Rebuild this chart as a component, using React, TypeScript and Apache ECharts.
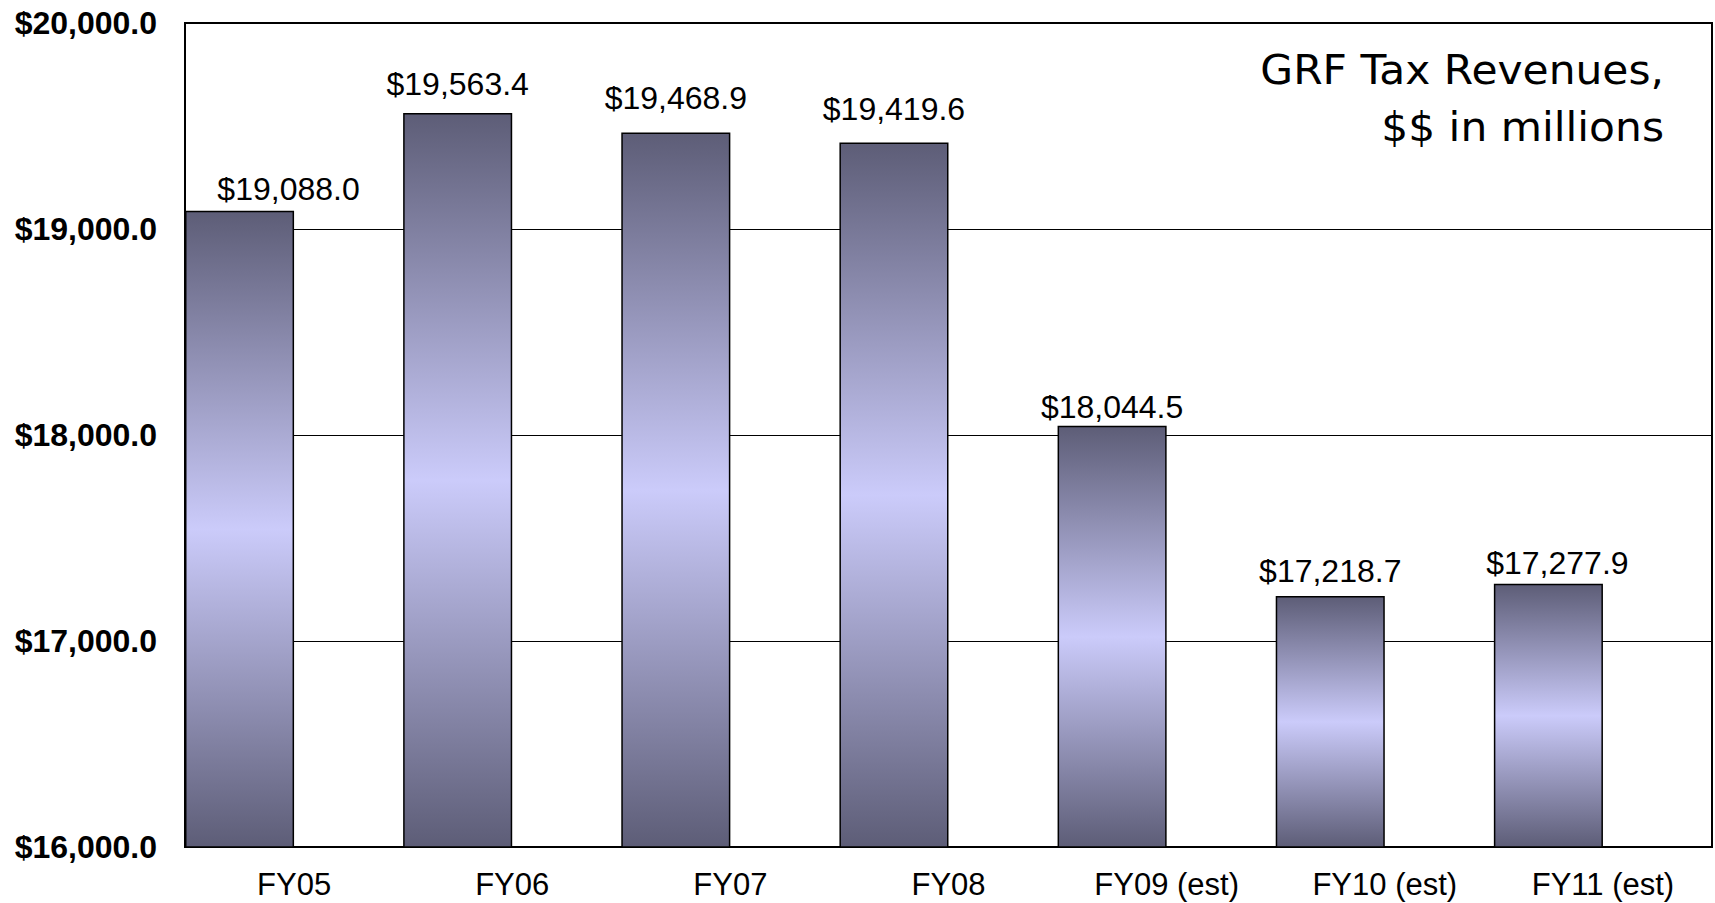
import React, { useEffect, useRef } from "react";
import * as echarts from "echarts";

// GRF tax revenues by fiscal year, $ in millions
const categories = ["FY05", "FY06", "FY07", "FY08", "FY09 (est)", "FY10 (est)", "FY11 (est)"];
const revenues = [19088.0, 19563.4, 19468.9, 19419.6, 18044.5, 17218.7, 17277.9];

// value axis range and step
const axisMin = 16000;
const axisMax = 20000;
const axisStep = 1000;

const titleLines = ["GRF Tax Revenues,", "$$ in millions"];

const money = (v: number) =>
  "$" + v.toLocaleString("en-US", { minimumFractionDigits: 1, maximumFractionDigits: 1 });

export default function App() {
  const ref = useRef<HTMLDivElement>(null);

  useEffect(() => {
    if (!ref.current) return;
    const chart = echarts.init(ref.current, null, { renderer: "svg" });

    const dark = "#5D5D77";
    const light = "#CBCBFA";
    const barFill = new echarts.graphic.LinearGradient(0, 0, 0, 1, [
      { offset: 0, color: dark },
      { offset: 0.5, color: light },
      { offset: 1, color: dark },
    ]);

    // hand-placed value labels: nudges relative to the default spot above each bar
    const labelShift: number[][] = [
      [49, 6],
      [0, -1],
      [0, -6],
      [0, -6],
      [0, 9],
      [0, 3],
      [9, 7],
    ];

    const barData = revenues.map((v, i) => ({ value: v, label: { offset: labelShift[i] } }));

    const sans = "Liberation Sans, Arial, sans-serif";

    chart.setOption({
      animation: false,
      backgroundColor: "#ffffff",
      grid: {
        left: 185,
        right: 3,
        top: 23,
        bottom: 56,
        show: true,
        borderColor: "#000",
        borderWidth: 2,
        backgroundColor: "transparent",
      },
      xAxis: {
        type: "category",
        data: categories,
        boundaryGap: true,
        axisLine: { show: true, lineStyle: { color: "#000", width: 2 } },
        axisTick: { show: false },
        axisLabel: {
          color: "#000",
          fontFamily: sans,
          fontSize: 31,
          margin: 22,
        },
      },
      yAxis: {
        type: "value",
        min: axisMin,
        max: axisMax,
        interval: axisStep,
        axisLine: { show: true, lineStyle: { color: "#000", width: 2 } },
        axisTick: { show: false },
        splitLine: { show: true, lineStyle: { color: "#000", width: 1.2 } },
        axisLabel: {
          color: "#000",
          fontFamily: sans,
          fontWeight: "bold",
          fontSize: 32,
          margin: 28,
          formatter: (v: number) => money(v),
        },
      },
      series: [
        {
          type: "bar",
          data: barData,
          barWidth: "50%",
          barGap: "0%",
          barCategoryGap: "0%",
          itemStyle: { color: barFill, borderColor: "#000", borderWidth: 1.5 },
          label: {
            show: true,
            position: "top",
            distance: 12,
            color: "#000",
            fontFamily: sans,
            fontSize: 32,
            formatter: (p: any) => money(p.value),
          },
          z: 3,
        },
        {
          // empty companion series keeps the bars in the left half of each slot
          type: "bar",
          data: categories.map(() => "-"),
          barWidth: "50%",
          barGap: "0%",
          silent: true,
        },
      ],
      graphic: [
        {
          type: "text",
          x: 1664,
          y: 42,
          scaleX: 1.06,
          style: {
            text: titleLines.join("\n"),
            x: 0,
            y: 0,
            fill: "#000",
            font: '40px "DejaVu Sans", Verdana, sans-serif',
            textAlign: "right",
            lineHeight: 57,
          },
        },
      ],
    });

    return () => chart.dispose();
  }, []);

  return (
    <div
      ref={ref}
      style={{ position: "fixed", left: 0, top: 0, width: 1715, height: 903, background: "#fff" }}
    />
  );
}
